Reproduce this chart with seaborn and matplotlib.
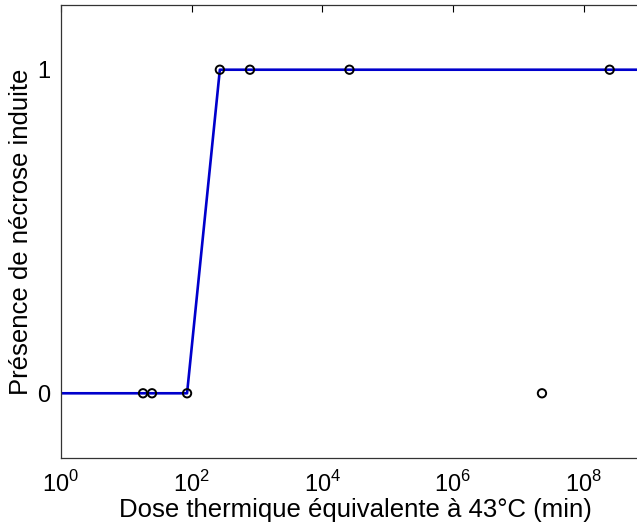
import matplotlib
matplotlib.use('Agg')
import matplotlib.pyplot as plt
import numpy as np
import pandas as pd
import seaborn as sns

# observed doses (min) and necrosis outcome
dose = [18, 24.7, 85, 270, 780, 2.6e4, 2.3e7, 2.5e8]
necrose = [0, 0, 0, 1, 1, 1, 0, 1]

# fitted step curve
fit_dose = [1, 85, 270, 1e9]
fit_val = [0, 0, 1, 1]

sns.set_style('white')
plt.rcParams['font.family'] = ['Liberation Sans', 'DejaVu Sans']
plt.rcParams['mathtext.fontset'] = 'custom'
plt.rcParams['mathtext.rm'] = 'Liberation Sans'
for k in ['text.color', 'axes.labelcolor', 'xtick.color', 'ytick.color']:
    plt.rcParams[k] = 'black'

fig = plt.figure(figsize=(6.37, 5.28), dpi=100)
ax = fig.add_axes([61 / 637, 1 - 458 / 528, 588 / 637, 453 / 528])

sns.lineplot(x=fit_dose, y=fit_val, ax=ax, color='#0000cc', linewidth=1.9, sort=False)
sns.scatterplot(x=dose, y=necrose, ax=ax, marker='o', s=36, facecolor='none',
                edgecolor='black', linewidth=1.4, zorder=3)

ax.set_xscale('log')
ax.set_xlim(1, 1e9)
ax.set_ylim(-0.2, 1.2)
ax.set_xticks([1, 1e2, 1e4, 1e6, 1e8])
ax.set_xticklabels([r'$10^{0}$', r'$10^{2}$', r'$10^{4}$', r'$10^{6}$', r'$10^{8}$'])
ax.minorticks_off()
ax.set_yticks([0, 1])
ax.tick_params(direction='in', length=5, width=0.8, labelsize=17, top=True, right=True)
ax.tick_params(axis='x', pad=9)
ax.tick_params(axis='y', pad=8)
for s in ax.spines.values():
    s.set_color('#333333')
    s.set_linewidth(0.9)

ax.set_xlabel('Dose thermique équivalente à 43°C (min)', fontsize=18.5, labelpad=1)
ax.set_ylabel('Présence de nécrose induite', fontsize=18.5, labelpad=3)

fig.savefig('out.png', dpi=100)
